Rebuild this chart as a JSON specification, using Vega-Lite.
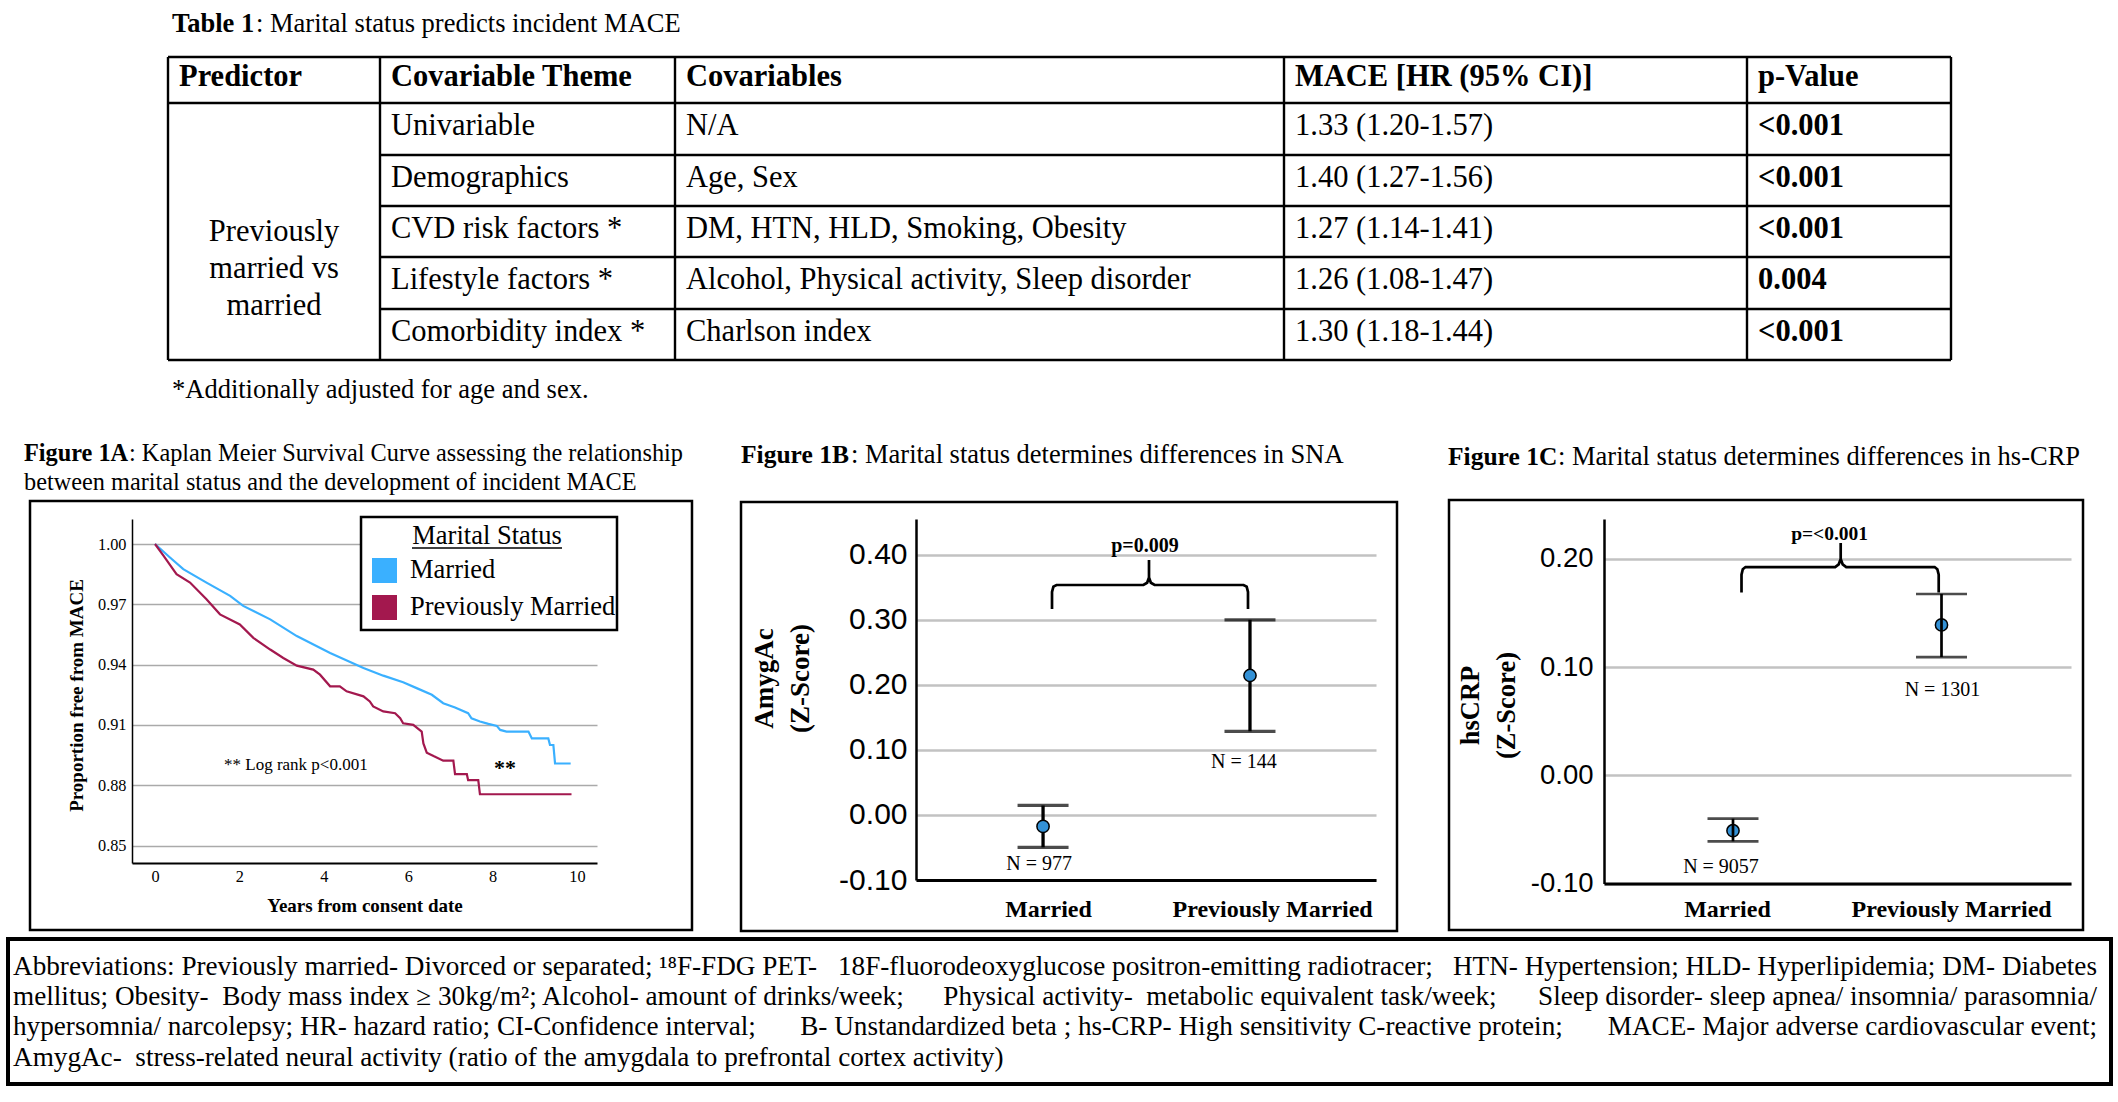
{
"$schema": "https://vega.github.io/schema/vega-lite/v6.json",
"background": "white",
"padding": {"left": 6, "top": 0, "right": 0, "bottom": 0},
"bounds": "flush",
"spacing": 0,
"config": {
  "view": {"stroke": null},
  "font": "Liberation Serif",
  "axis": {"labelColor": "black", "titleColor": "black", "domainColor": "black", "ticks": false, "tickSize": 0, "labelFont": "Liberation Serif", "titleFont": "Liberation Serif"},
  "text": {"color": "black", "font": "Liberation Serif"}
},
"datasets": {
  "table_cells": [
    {"row":0,"col":0,"kind":"header","text":"Predictor"},
    {"row":0,"col":1,"kind":"header","text":"Covariable Theme"},
    {"row":0,"col":2,"kind":"header","text":"Covariables"},
    {"row":0,"col":3,"kind":"header","text":"MACE [HR (95% CI)]"},
    {"row":0,"col":4,"kind":"header","text":"p-Value"},
    {"row":1,"col":1,"kind":"body","text":"Univariable"},
    {"row":2,"col":1,"kind":"body","text":"Demographics"},
    {"row":3,"col":1,"kind":"body","text":"CVD risk factors *"},
    {"row":4,"col":1,"kind":"body","text":"Lifestyle factors *"},
    {"row":5,"col":1,"kind":"body","text":"Comorbidity index *"},
    {"row":1,"col":2,"kind":"body","text":"N/A"},
    {"row":2,"col":2,"kind":"body","text":"Age, Sex"},
    {"row":3,"col":2,"kind":"body","text":"DM, HTN, HLD, Smoking, Obesity"},
    {"row":4,"col":2,"kind":"body","text":"Alcohol, Physical activity, Sleep disorder"},
    {"row":5,"col":2,"kind":"body","text":"Charlson index"},
    {"row":1,"col":3,"kind":"body","text":"1.33 (1.20-1.57)"},
    {"row":2,"col":3,"kind":"body","text":"1.40 (1.27-1.56)"},
    {"row":3,"col":3,"kind":"body","text":"1.27 (1.14-1.41)"},
    {"row":4,"col":3,"kind":"body","text":"1.26 (1.08-1.47)"},
    {"row":5,"col":3,"kind":"body","text":"1.30 (1.18-1.44)"},
    {"row":1,"col":4,"kind":"pvalue","text":"<0.001"},
    {"row":2,"col":4,"kind":"pvalue","text":"<0.001"},
    {"row":3,"col":4,"kind":"pvalue","text":"<0.001"},
    {"row":4,"col":4,"kind":"pvalue","text":"0.004"},
    {"row":5,"col":4,"kind":"pvalue","text":"<0.001"}
  ],
  "table_lines": [
    {"c1":0,"c2":5,"r1":-0.5,"r2":-0.5},
    {"c1":0,"c2":5,"r1":0.5,"r2":0.5},
    {"c1":1,"c2":5,"r1":1.5,"r2":1.5},
    {"c1":1,"c2":5,"r1":2.5,"r2":2.5},
    {"c1":1,"c2":5,"r1":3.5,"r2":3.5},
    {"c1":1,"c2":5,"r1":4.5,"r2":4.5},
    {"c1":0,"c2":5,"r1":5.5,"r2":5.5},
    {"c1":0,"c2":0,"r1":-0.5,"r2":5.5},
    {"c1":1,"c2":1,"r1":-0.5,"r2":5.5},
    {"c1":2,"c2":2,"r1":-0.5,"r2":5.5},
    {"c1":3,"c2":3,"r1":-0.5,"r2":5.5},
    {"c1":4,"c2":4,"r1":-0.5,"r2":5.5},
    {"c1":5,"c2":5,"r1":-0.5,"r2":5.5}
  ],
  "km": [
    {"status":"Married","years":0,"surv":1.0},
    {"status":"Married","years":0.355,"surv":0.9933},
    {"status":"Married","years":0.67,"surv":0.9875},
    {"status":"Married","years":1.22,"surv":0.9808},
    {"status":"Married","years":1.78,"surv":0.9742},
    {"status":"Married","years":2.09,"surv":0.9692},
    {"status":"Married","years":2.73,"surv":0.9625},
    {"status":"Married","years":3.36,"surv":0.9542},
    {"status":"Married","years":4.15,"surv":0.9458},
    {"status":"Married","years":4.94,"surv":0.9383},
    {"status":"Married","years":5.41,"surv":0.9345},
    {"status":"Married","years":5.88,"surv":0.9312},
    {"status":"Married","years":6.2,"surv":0.9283},
    {"status":"Married","years":6.56,"surv":0.925},
    {"status":"Married","years":6.83,"surv":0.9208},
    {"status":"Married","years":7.11,"surv":0.9187},
    {"status":"Married","years":7.42,"surv":0.9158},
    {"status":"Married","years":7.5,"surv":0.9133},
    {"status":"Married","years":7.7,"surv":0.9117},
    {"status":"Married","years":7.9,"surv":0.9105},
    {"status":"Married","years":8.1,"surv":0.9095},
    {"status":"Married","years":8.18,"surv":0.9075},
    {"status":"Married","years":8.33,"surv":0.9067},
    {"status":"Married","years":8.85,"surv":0.9067},
    {"status":"Married","years":8.93,"surv":0.9033},
    {"status":"Married","years":9.32,"surv":0.9033},
    {"status":"Married","years":9.36,"surv":0.9},
    {"status":"Married","years":9.44,"surv":0.9},
    {"status":"Married","years":9.48,"surv":0.8908},
    {"status":"Married","years":9.85,"surv":0.8908},
    {"status":"Previously Married","years":0,"surv":1.0},
    {"status":"Previously Married","years":0.2,"surv":0.9942},
    {"status":"Previously Married","years":0.51,"surv":0.985},
    {"status":"Previously Married","years":0.83,"surv":0.9808},
    {"status":"Previously Married","years":1.22,"surv":0.9725},
    {"status":"Previously Married","years":1.54,"surv":0.965},
    {"status":"Previously Married","years":2.01,"surv":0.96},
    {"status":"Previously Married","years":2.33,"surv":0.9533},
    {"status":"Previously Married","years":2.73,"surv":0.9475},
    {"status":"Previously Married","years":3.04,"surv":0.9433},
    {"status":"Previously Married","years":3.36,"surv":0.9395},
    {"status":"Previously Married","years":3.75,"surv":0.9375},
    {"status":"Previously Married","years":3.91,"surv":0.935},
    {"status":"Previously Married","years":4.15,"surv":0.9292},
    {"status":"Previously Married","years":4.38,"surv":0.9292},
    {"status":"Previously Married","years":4.54,"surv":0.9267},
    {"status":"Previously Married","years":4.94,"surv":0.9242},
    {"status":"Previously Married","years":5.09,"surv":0.9217},
    {"status":"Previously Married","years":5.17,"surv":0.9192},
    {"status":"Previously Married","years":5.41,"surv":0.9167},
    {"status":"Previously Married","years":5.69,"surv":0.9158},
    {"status":"Previously Married","years":5.81,"surv":0.9133},
    {"status":"Previously Married","years":5.88,"surv":0.9108},
    {"status":"Previously Married","years":6.12,"surv":0.91},
    {"status":"Previously Married","years":6.32,"surv":0.9067},
    {"status":"Previously Married","years":6.36,"surv":0.9008},
    {"status":"Previously Married","years":6.44,"surv":0.8962},
    {"status":"Previously Married","years":6.6,"surv":0.8945},
    {"status":"Previously Married","years":6.83,"surv":0.8922},
    {"status":"Previously Married","years":7.07,"surv":0.8922},
    {"status":"Previously Married","years":7.11,"surv":0.8855},
    {"status":"Previously Married","years":7.39,"surv":0.8855},
    {"status":"Previously Married","years":7.42,"surv":0.8825},
    {"status":"Previously Married","years":7.66,"surv":0.8825},
    {"status":"Previously Married","years":7.7,"surv":0.8755},
    {"status":"Previously Married","years":9.87,"surv":0.8755}
  ],
  "sna": [
    {"status":"Married","code":0,"mean":-0.0176,"lo":-0.0498,"hi":0.0146,"nlabel":"N = 977"},
    {"status":"Previously Married","code":1,"mean":0.2144,"lo":0.1286,"hi":0.3,"nlabel":"N = 144"}
  ],
  "crp": [
    {"status":"Married","code":0,"mean":-0.0512,"lo":-0.061,"hi":-0.0401,"nlabel":"N = 9057"},
    {"status":"Previously Married","code":1,"mean":0.139,"lo":0.1093,"hi":0.1676,"nlabel":"N = 1301"}
  ],
  "brace_b": [
    {"i":0,"bx":0.0433,"by":0.3166},{"i":1,"bx":0.0433,"by":0.343},{"i":2,"bx":0.05,"by":0.351},{"i":3,"bx":0.065,"by":0.3535},
    {"i":4,"bx":0.485,"by":0.3535},{"i":5,"bx":0.503,"by":0.357},{"i":6,"bx":0.512,"by":0.365},{"i":7,"bx":0.512,"by":0.392},
    {"i":8,"bx":0.512,"by":0.365},{"i":9,"bx":0.521,"by":0.357},{"i":10,"bx":0.539,"by":0.3535},{"i":11,"bx":0.969,"by":0.3535},
    {"i":12,"bx":0.984,"by":0.351},{"i":13,"bx":0.9904,"by":0.343},{"i":14,"bx":0.9904,"by":0.3166}
  ],
  "brace_c": [
    {"i":0,"bx":0.0408,"by":0.169},{"i":1,"bx":0.0408,"by":0.1855},{"i":2,"bx":0.047,"by":0.1905},{"i":3,"bx":0.06,"by":0.1925},
    {"i":4,"bx":0.49,"by":0.1925},{"i":5,"bx":0.507,"by":0.195},{"i":6,"bx":0.5165,"by":0.2},{"i":7,"bx":0.5165,"by":0.2147},
    {"i":8,"bx":0.5165,"by":0.2},{"i":9,"bx":0.526,"by":0.195},{"i":10,"bx":0.543,"by":0.1925},{"i":11,"bx":0.967,"by":0.1925},
    {"i":12,"bx":0.98,"by":0.1905},{"i":13,"bx":0.9866,"by":0.1855},{"i":14,"bx":0.9866,"by":0.169}
  ],
  "abbr": [
    {"line":1,"part":"left","text":"Abbreviations: Previously married- Divorced or separated; ¹⁸F-FDG PET-"},
    {"line":1,"part":"mid","text":"18F-fluorodeoxyglucose positron-emitting radiotracer;"},
    {"line":1,"part":"right","text":"HTN- Hypertension; HLD- Hyperlipidemia; DM- Diabetes"},
    {"line":2,"part":"left","text":"mellitus; Obesity-\u00a0 Body mass index ≥ 30kg/m²; Alcohol- amount of drinks/week;"},
    {"line":2,"part":"mid","text":"Physical activity-\u00a0 metabolic equivalent task/week;"},
    {"line":2,"part":"right","text":"Sleep disorder- sleep apnea/ insomnia/ parasomnia/"},
    {"line":3,"part":"left","text":"hypersomnia/ narcolepsy; HR- hazard ratio; CI-Confidence interval;"},
    {"line":3,"part":"mid","text":"B- Unstandardized beta ; hs-CRP- High sensitivity C-reactive protein;"},
    {"line":3,"part":"right","text":"MACE- Major adverse cardiovascular event;"},
    {"line":4,"part":"left","text":"AmygAc-\u00a0 stress-related neural activity (ratio of the amygdala to prefrontal cortex activity)"}
  ]
},
"vconcat": [
  {
    "width": 2100, "height": 518.5,
    "layer": [
      {"data": {"name": "table_lines"}, "mark": {"type": "rule", "strokeWidth": 2.4, "color": "black"},
       "encoding": {
         "x": {"field": "c1", "type": "quantitative", "scale": {"domain": [0,1,2,3,4,5], "range": [160,372,667,1276,1739,1943], "nice": false, "zero": false}, "axis": null},
         "x2": {"field": "c2"},
         "y": {"field": "r1", "type": "quantitative", "scale": {"domain": [-2,-0.5,0.5,1.5,2.5,3.5,4.5,5.5,7], "range": [32,57,103,155,206,257,309,360,398], "nice": false, "zero": false}, "axis": null},
         "y2": {"field": "r2"}}},
      {"data": {"name": "table_cells"}, "transform": [{"filter": "datum.kind != 'body'"}],
       "mark": {"type": "text", "align": "left", "baseline": "alphabetic", "dx": 11, "dy": 6, "fontSize": 30.5, "fontWeight": "bold"},
       "encoding": {
         "x": {"field": "col", "type": "quantitative", "scale": {"domain": [0,1,2,3,4,5], "range": [160,372,667,1276,1739,1943], "nice": false, "zero": false}, "axis": null},
         "y": {"field": "row", "type": "quantitative", "scale": {"domain": [-2,-0.5,0.5,1.5,2.5,3.5,4.5,5.5,7], "range": [32,57,103,155,206,257,309,360,398], "nice": false, "zero": false}, "axis": null},
         "text": {"field": "text"}}},
      {"data": {"name": "table_cells"}, "transform": [{"filter": "datum.kind == 'body'"}],
       "mark": {"type": "text", "align": "left", "baseline": "alphabetic", "dx": 11, "dy": 6, "fontSize": 30.5},
       "encoding": {
         "x": {"field": "col", "type": "quantitative", "scale": {"domain": [0,1,2,3,4,5], "range": [160,372,667,1276,1739,1943], "nice": false, "zero": false}, "axis": null},
         "y": {"field": "row", "type": "quantitative", "scale": {"domain": [-2,-0.5,0.5,1.5,2.5,3.5,4.5,5.5,7], "range": [32,57,103,155,206,257,309,360,398], "nice": false, "zero": false}, "axis": null},
         "text": {"field": "text"}}},
      {"data": {"values": [{}]},
       "mark": {"type": "text", "text": ["Previously", "married vs", "married"], "align": "center", "baseline": "middle", "dx": 106, "fontSize": 30.5, "lineHeight": 37},
       "encoding": {
         "x": {"datum": 0, "type": "quantitative", "scale": {"domain": [0,1,2,3,4,5], "range": [160,372,667,1276,1739,1943], "nice": false, "zero": false}, "axis": null},
         "y": {"datum": 3, "type": "quantitative", "scale": {"domain": [-2,-0.5,0.5,1.5,2.5,3.5,4.5,5.5,7], "range": [32,57,103,155,206,257,309,360,398], "nice": false, "zero": false}, "axis": null}}},
      {"data": {"values": [{}]},
       "mark": {"type": "text", "text": "Table 1", "align": "left", "baseline": "alphabetic", "dx": 4, "fontSize": 26.5, "fontWeight": "bold"},
       "encoding": {
         "x": {"datum": 0, "type": "quantitative", "scale": {"domain": [0,1,2,3,4,5], "range": [160,372,667,1276,1739,1943], "nice": false, "zero": false}, "axis": null},
         "y": {"datum": -2, "type": "quantitative", "scale": {"domain": [-2,-0.5,0.5,1.5,2.5,3.5,4.5,5.5,7], "range": [32,57,103,155,206,257,309,360,398], "nice": false, "zero": false}, "axis": null}}},
      {"data": {"values": [{}]},
       "mark": {"type": "text", "text": ": Marital status predicts incident MACE", "align": "left", "baseline": "alphabetic", "dx": 88, "fontSize": 26.5},
       "encoding": {
         "x": {"datum": 0, "type": "quantitative", "scale": {"domain": [0,1,2,3,4,5], "range": [160,372,667,1276,1739,1943], "nice": false, "zero": false}, "axis": null},
         "y": {"datum": -2, "type": "quantitative", "scale": {"domain": [-2,-0.5,0.5,1.5,2.5,3.5,4.5,5.5,7], "range": [32,57,103,155,206,257,309,360,398], "nice": false, "zero": false}, "axis": null}}},
      {"data": {"values": [{}]},
       "mark": {"type": "text", "text": "*Additionally adjusted for age and sex.", "align": "left", "baseline": "alphabetic", "dx": 4, "fontSize": 26.5},
       "encoding": {
         "x": {"datum": 0, "type": "quantitative", "scale": {"domain": [0,1,2,3,4,5], "range": [160,372,667,1276,1739,1943], "nice": false, "zero": false}, "axis": null},
         "y": {"datum": 7, "type": "quantitative", "scale": {"domain": [-2,-0.5,0.5,1.5,2.5,3.5,4.5,5.5,7], "range": [32,57,103,155,206,257,309,360,398], "nice": false, "zero": false}, "axis": null}}}
    ]
  },
  {
    "hconcat": [
      {"width": 124, "height": 1, "data": {"values": []}, "mark": "point"},
      {
        "width": 465, "height": 344,
        "layer": [
          {"data": {"name": "km"}, "mark": {"type": "line", "strokeWidth": 2.2},
           "encoding": {
             "x": {"field": "years", "type": "quantitative", "scale": {"domain": [-0.545, 10.474], "nice": false, "zero": false},
                   "axis": {"values": [0,2,4,6,8,10], "title": "Years from consent date", "titleFontSize": 19, "titleFontWeight": "bold", "titlePadding": 12, "labelFontSize": 16.3, "labelPadding": 5, "grid": false, "domainWidth": 2, "labelFlush": false}},
             "y": {"field": "surv", "type": "quantitative", "scale": {"domain": [0.8413, 1.01244], "nice": false, "zero": false},
                   "axis": {"values": [0.85,0.88,0.91,0.94,0.97,1.0], "format": ".2f", "title": "Proportion free from MACE", "titleFontSize": 19, "titleFontWeight": "bold", "titlePadding": 11, "titleY": 176, "labelFontSize": 16.3, "labelPadding": 6, "grid": true, "gridColor": "#aaaaaa", "gridWidth": 1.3, "domainWidth": 1.5}},
             "color": {"field": "status", "type": "nominal", "scale": {"domain": ["Married", "Previously Married"], "range": ["#3ab0ff", "#a3184e"]}, "legend": null}}},
          {"data": {"values": [{}]}, "mark": {"type": "rect", "fill": "white", "stroke": "black", "strokeWidth": 2.5},
           "encoding": {"x": {"datum": 4.882, "type": "quantitative", "scale": {"domain": [-0.545, 10.474], "nice": false, "zero": false}},
                        "x2": {"datum": 10.948},
                        "y": {"datum": 1.01343, "type": "quantitative", "scale": {"domain": [0.8413, 1.01244], "nice": false, "zero": false}},
                        "y2": {"datum": 0.95721}}},
          {"data": {"values": [{}]}, "mark": {"type": "text", "text": "Marital Status", "fontSize": 26.5, "align": "center", "baseline": "alphabetic"},
           "encoding": {"x": {"datum": 7.867, "type": "quantitative", "scale": {"domain": [-0.545, 10.474], "nice": false, "zero": false}},
                        "y": {"datum": 1.0, "type": "quantitative", "scale": {"domain": [0.8413, 1.01244], "nice": false, "zero": false}}}},
          {"data": {"values": [{}]}, "mark": {"type": "rule", "color": "black", "strokeWidth": 1.6},
           "encoding": {"x": {"datum": 6.09, "type": "quantitative", "scale": {"domain": [-0.545, 10.474], "nice": false, "zero": false}},
                        "x2": {"datum": 9.645},
                        "y": {"datum": 0.99801, "type": "quantitative", "scale": {"domain": [0.8413, 1.01244], "nice": false, "zero": false}}}},
          {"data": {"values": [{}]}, "mark": {"type": "rect"},
           "encoding": {"x": {"datum": 5.142, "type": "quantitative", "scale": {"domain": [-0.545, 10.474], "nice": false, "zero": false}},
                        "x2": {"datum": 5.735},
                        "y": {"datum": 0.99303, "type": "quantitative", "scale": {"domain": [0.8413, 1.01244], "nice": false, "zero": false}},
                        "y2": {"datum": 0.9806},
                        "color": {"datum": "Married", "type": "nominal", "scale": {"domain": ["Married", "Previously Married"], "range": ["#3ab0ff", "#a3184e"]}, "legend": null}}},
          {"data": {"values": [{}]}, "mark": {"type": "rect"},
           "encoding": {"x": {"datum": 5.142, "type": "quantitative", "scale": {"domain": [-0.545, 10.474], "nice": false, "zero": false}},
                        "x2": {"datum": 5.735},
                        "y": {"datum": 0.97463, "type": "quantitative", "scale": {"domain": [0.8413, 1.01244], "nice": false, "zero": false}},
                        "y2": {"datum": 0.96219},
                        "color": {"datum": "Previously Married", "type": "nominal", "scale": {"domain": ["Married", "Previously Married"], "range": ["#3ab0ff", "#a3184e"]}, "legend": null}}},
          {"data": {"values": [{}]}, "mark": {"type": "text", "text": "Married", "fontSize": 26.5, "align": "left", "baseline": "alphabetic"},
           "encoding": {"x": {"datum": 6.043, "type": "quantitative", "scale": {"domain": [-0.545, 10.474], "nice": false, "zero": false}},
                        "y": {"datum": 0.98308, "type": "quantitative", "scale": {"domain": [0.8413, 1.01244], "nice": false, "zero": false}}}},
          {"data": {"values": [{}]}, "mark": {"type": "text", "text": "Previously Married", "fontSize": 26.5, "align": "left", "baseline": "alphabetic"},
           "encoding": {"x": {"datum": 6.043, "type": "quantitative", "scale": {"domain": [-0.545, 10.474], "nice": false, "zero": false}},
                        "y": {"datum": 0.96468, "type": "quantitative", "scale": {"domain": [0.8413, 1.01244], "nice": false, "zero": false}}}},
          {"data": {"values": [{}]}, "mark": {"type": "text", "text": "** Log rank p<0.001", "fontSize": 17, "align": "left", "baseline": "alphabetic"},
           "encoding": {"x": {"datum": 1.635, "type": "quantitative", "scale": {"domain": [-0.545, 10.474], "nice": false, "zero": false}},
                        "y": {"datum": 0.8876, "type": "quantitative", "scale": {"domain": [0.8413, 1.01244], "nice": false, "zero": false}}}},
          {"data": {"values": [{}]}, "mark": {"type": "text", "text": "**", "fontSize": 22, "fontWeight": "bold", "align": "center", "baseline": "alphabetic"},
           "encoding": {"x": {"datum": 8.294, "type": "quantitative", "scale": {"domain": [-0.545, 10.474], "nice": false, "zero": false}},
                        "y": {"datum": 0.8851, "type": "quantitative", "scale": {"domain": [0.8413, 1.01244], "nice": false, "zero": false}}}},
          {"data": {"values": [{}]}, "mark": {"type": "text", "text": "Figure 1A", "fontSize": 24.3, "fontWeight": "bold", "align": "left", "baseline": "alphabetic"},
           "encoding": {"x": {"datum": -3.104, "type": "quantitative", "scale": {"domain": [-0.545, 10.474], "nice": false, "zero": false}},
                        "y": {"datum": 1.0413, "type": "quantitative", "scale": {"domain": [0.8413, 1.01244], "nice": false, "zero": false}}}},
          {"data": {"values": [{}]}, "mark": {"type": "text", "text": ": Kaplan Meier Survival Curve assessing the relationship", "fontSize": 24.3, "align": "left", "baseline": "alphabetic", "dx": 105},
           "encoding": {"x": {"datum": -3.104, "type": "quantitative", "scale": {"domain": [-0.545, 10.474], "nice": false, "zero": false}},
                        "y": {"datum": 1.0413, "type": "quantitative", "scale": {"domain": [0.8413, 1.01244], "nice": false, "zero": false}}}},
          {"data": {"values": [{}]}, "mark": {"type": "text", "text": "between marital status and the development of incident MACE", "fontSize": 24.3, "align": "left", "baseline": "alphabetic"},
           "encoding": {"x": {"datum": -3.104, "type": "quantitative", "scale": {"domain": [-0.545, 10.474], "nice": false, "zero": false}},
                        "y": {"datum": 1.0269, "type": "quantitative", "scale": {"domain": [0.8413, 1.01244], "nice": false, "zero": false}}}},
          {"data": {"values": [{}]}, "mark": {"type": "rect", "filled": false, "stroke": "black", "strokeWidth": 2.5},
           "encoding": {"x": {"datum": -2.962, "type": "quantitative", "scale": {"domain": [-0.545, 10.474], "nice": false, "zero": false}},
                        "x2": {"datum": 12.725},
                        "y": {"datum": 1.0214, "type": "quantitative", "scale": {"domain": [0.8413, 1.01244], "nice": false, "zero": false}},
                        "y2": {"datum": 0.80796}}}
        ]
      },
      {"width": 319, "height": 1, "data": {"values": []}, "mark": "point"},
      {
        "width": 460, "height": 361,
        "layer": [
          {"data": {"name": "sna"}, "mark": {"type": "rule", "strokeWidth": 3.3, "color": "black"},
           "encoding": {
             "x": {"field": "code", "type": "quantitative", "scale": {"domain": [-0.614, 1.609], "nice": false, "zero": false},
                   "axis": {"values": [0.024, 1.107], "labelExpr": "datum.value < 0.5 ? 'Married' : 'Previously Married'", "title": null, "labelFontSize": 24, "labelFontWeight": "bold", "labelPadding": 17, "labelLimit": 400, "grid": false, "domainWidth": 3, "labelFlush": false, "labelOverlap": false, "labelBound": false}},
             "y": {"field": "lo", "type": "quantitative", "scale": {"domain": [-0.1, 0.455], "nice": false, "zero": false},
                   "axis": {"values": [-0.1,0,0.1,0.2,0.3,0.4], "format": ".2f", "labelExpr": "replace(datum.label, '\u2212', '-')", "title": ["AmygAc", "(Z-Score)"], "titleFontSize": 27, "titleFontWeight": "bold", "titleLineHeight": 36, "titlePadding": 24.6, "titleY": 159, "labelFont": "Liberation Sans", "labelFontSize": 30, "labelPadding": 9, "grid": true, "gridColor": "#c2c2c2", "gridWidth": 2.3, "domainWidth": 2.5}},
             "y2": {"field": "hi"}}},
          {"data": {"name": "sna"}, "mark": {"type": "tick", "orient": "horizontal", "size": 51, "thickness": 3.3, "color": "black"},
           "encoding": {"x": {"field": "code", "type": "quantitative", "scale": {"domain": [-0.614, 1.609], "nice": false, "zero": false}},
                        "y": {"field": "lo", "type": "quantitative", "scale": {"domain": [-0.1, 0.455], "nice": false, "zero": false}}}},
          {"data": {"name": "sna"}, "mark": {"type": "tick", "orient": "horizontal", "size": 51, "thickness": 3.3, "color": "black"},
           "encoding": {"x": {"field": "code", "type": "quantitative", "scale": {"domain": [-0.614, 1.609], "nice": false, "zero": false}},
                        "y": {"field": "hi", "type": "quantitative", "scale": {"domain": [-0.1, 0.455], "nice": false, "zero": false}}}},
          {"data": {"name": "sna"}, "mark": {"type": "point", "filled": true, "fill": "#3391d6", "stroke": "black", "strokeWidth": 1.5, "size": 150, "opacity": 1},
           "encoding": {"x": {"field": "code", "type": "quantitative", "scale": {"domain": [-0.614, 1.609], "nice": false, "zero": false}},
                        "y": {"field": "mean", "type": "quantitative", "scale": {"domain": [-0.1, 0.455], "nice": false, "zero": false}}}},
          {"data": {"name": "sna"}, "transform": [{"filter": "datum.code == 0"}], "mark": {"type": "text", "fontSize": 20, "align": "center", "baseline": "alphabetic", "dy": 23, "dx": -4},
           "encoding": {"x": {"field": "code", "type": "quantitative", "scale": {"domain": [-0.614, 1.609], "nice": false, "zero": false}},
                        "y": {"field": "lo", "type": "quantitative", "scale": {"domain": [-0.1, 0.455], "nice": false, "zero": false}},
                        "text": {"field": "nlabel"}}},
          {"data": {"name": "sna"}, "transform": [{"filter": "datum.code == 1"}], "mark": {"type": "text", "fontSize": 20, "align": "center", "baseline": "alphabetic", "dy": 37, "dx": -6},
           "encoding": {"x": {"field": "code", "type": "quantitative", "scale": {"domain": [-0.614, 1.609], "nice": false, "zero": false}},
                        "y": {"field": "lo", "type": "quantitative", "scale": {"domain": [-0.1, 0.455], "nice": false, "zero": false}},
                        "text": {"field": "nlabel"}}},
          {"data": {"name": "brace_b"}, "mark": {"type": "line", "color": "black", "strokeWidth": 2.7},
           "encoding": {"x": {"field": "bx", "type": "quantitative", "scale": {"domain": [-0.614, 1.609], "nice": false, "zero": false}},
                        "y": {"field": "by", "type": "quantitative", "scale": {"domain": [-0.1, 0.455], "nice": false, "zero": false}},
                        "order": {"field": "i", "type": "quantitative"}}},
          {"data": {"values": [{}]}, "mark": {"type": "text", "text": "p=0.009", "fontSize": 20, "fontWeight": "bold", "align": "center", "baseline": "alphabetic"},
           "encoding": {"x": {"datum": 0.4927, "type": "quantitative", "scale": {"domain": [-0.614, 1.609], "nice": false, "zero": false}},
                        "y": {"datum": 0.4043, "type": "quantitative", "scale": {"domain": [-0.1, 0.455], "nice": false, "zero": false}}}},
          {"data": {"values": [{}]}, "mark": {"type": "text", "text": "Figure 1B", "fontSize": 25.5, "fontWeight": "bold", "align": "left", "baseline": "alphabetic"},
           "encoding": {"x": {"datum": -1.4597, "type": "quantitative", "scale": {"domain": [-0.614, 1.609], "nice": false, "zero": false}},
                        "y": {"datum": 0.5411, "type": "quantitative", "scale": {"domain": [-0.1, 0.455], "nice": false, "zero": false}}}},
          {"data": {"values": [{}]}, "mark": {"type": "text", "text": ": Marital status determines differences in SNA", "fontSize": 26.5, "align": "left", "baseline": "alphabetic", "dx": 110},
           "encoding": {"x": {"datum": -1.4597, "type": "quantitative", "scale": {"domain": [-0.614, 1.609], "nice": false, "zero": false}},
                        "y": {"datum": 0.5411, "type": "quantitative", "scale": {"domain": [-0.1, 0.455], "nice": false, "zero": false}}}},
          {"data": {"values": [{}]}, "mark": {"type": "rect", "filled": false, "stroke": "black", "strokeWidth": 2.5},
           "encoding": {"x": {"datum": -1.4597, "type": "quantitative", "scale": {"domain": [-0.614, 1.609], "nice": false, "zero": false}},
                        "x2": {"datum": 1.7105},
                        "y": {"datum": 0.4811, "type": "quantitative", "scale": {"domain": [-0.1, 0.455], "nice": false, "zero": false}},
                        "y2": {"datum": -0.1784}}}
        ]
      },
      {"width": 228, "height": 1, "data": {"values": []}, "mark": "point"},
      {
        "width": 467, "height": 364.5,
        "layer": [
          {"data": {"name": "crp"}, "mark": {"type": "tick", "orient": "horizontal", "size": 51, "thickness": 2.7, "color": "black"},
           "encoding": {
             "x": {"field": "code", "type": "quantitative", "scale": {"domain": [-0.6187, 1.6211], "nice": false, "zero": false},
                   "axis": {"values": [-0.029, 1.046], "labelExpr": "datum.value < 0.5 ? 'Married' : 'Previously Married'", "title": null, "labelFontSize": 24, "labelFontWeight": "bold", "labelPadding": 13.5, "labelLimit": 400, "grid": false, "domainWidth": 3, "labelFlush": false, "labelOverlap": false, "labelBound": false}},
             "y": {"field": "lo", "type": "quantitative", "scale": {"domain": [-0.1, 0.2369], "nice": false, "zero": false},
                   "axis": {"values": [-0.1,0,0.1,0.2], "format": ".2f", "labelExpr": "replace(datum.label, '\u2212', '-')", "title": ["hsCRP", "(Z-Score)"], "titleFontSize": 26.5, "titleFontWeight": "bold", "titleLineHeight": 36, "titlePadding": 10, "titleY": 186, "labelFont": "Liberation Sans", "labelFontSize": 27.5, "labelPadding": 11, "grid": true, "gridColor": "#c2c2c2", "gridWidth": 2.3, "domainWidth": 2.5}}}},
          {"data": {"name": "crp"}, "mark": {"type": "tick", "orient": "horizontal", "size": 51, "thickness": 2.7, "color": "black"},
           "encoding": {"x": {"field": "code", "type": "quantitative", "scale": {"domain": [-0.6187, 1.6211], "nice": false, "zero": false}},
                        "y": {"field": "hi", "type": "quantitative", "scale": {"domain": [-0.1, 0.2369], "nice": false, "zero": false}}}},
          {"data": {"name": "crp"}, "mark": {"type": "point", "filled": true, "fill": "#3391d6", "stroke": "black", "strokeWidth": 1.5, "size": 150, "opacity": 1},
           "encoding": {"x": {"field": "code", "type": "quantitative", "scale": {"domain": [-0.6187, 1.6211], "nice": false, "zero": false}},
                        "y": {"field": "mean", "type": "quantitative", "scale": {"domain": [-0.1, 0.2369], "nice": false, "zero": false}}}},
          {"data": {"name": "crp"}, "mark": {"type": "rule", "strokeWidth": 2.7, "color": "black"},
           "encoding": {"x": {"field": "code", "type": "quantitative", "scale": {"domain": [-0.6187, 1.6211], "nice": false, "zero": false}},
                        "y": {"field": "lo", "type": "quantitative", "scale": {"domain": [-0.1, 0.2369], "nice": false, "zero": false}},
                        "y2": {"field": "hi"}}},
          {"data": {"name": "crp"}, "transform": [{"filter": "datum.code == 0"}], "mark": {"type": "text", "fontSize": 20, "align": "center", "baseline": "alphabetic", "dy": 32, "dx": -12},
           "encoding": {"x": {"field": "code", "type": "quantitative", "scale": {"domain": [-0.6187, 1.6211], "nice": false, "zero": false}},
                        "y": {"field": "lo", "type": "quantitative", "scale": {"domain": [-0.1, 0.2369], "nice": false, "zero": false}},
                        "text": {"field": "nlabel"}}},
          {"data": {"name": "crp"}, "transform": [{"filter": "datum.code == 1"}], "mark": {"type": "text", "fontSize": 20, "align": "center", "baseline": "alphabetic", "dy": 39, "dx": 1},
           "encoding": {"x": {"field": "code", "type": "quantitative", "scale": {"domain": [-0.6187, 1.6211], "nice": false, "zero": false}},
                        "y": {"field": "lo", "type": "quantitative", "scale": {"domain": [-0.1, 0.2369], "nice": false, "zero": false}},
                        "text": {"field": "nlabel"}}},
          {"data": {"name": "brace_c"}, "mark": {"type": "line", "color": "black", "strokeWidth": 2.7},
           "encoding": {"x": {"field": "bx", "type": "quantitative", "scale": {"domain": [-0.6187, 1.6211], "nice": false, "zero": false}},
                        "y": {"field": "by", "type": "quantitative", "scale": {"domain": [-0.1, 0.2369], "nice": false, "zero": false}},
                        "order": {"field": "i", "type": "quantitative"}}},
          {"data": {"values": [{}]}, "mark": {"type": "text", "text": "p=<0.001", "fontSize": 19.5, "fontWeight": "bold", "align": "center", "baseline": "alphabetic"},
           "encoding": {"x": {"datum": 0.4633, "type": "quantitative", "scale": {"domain": [-0.6187, 1.6211], "nice": false, "zero": false}},
                        "y": {"datum": 0.2178, "type": "quantitative", "scale": {"domain": [-0.1, 0.2369], "nice": false, "zero": false}}}},
          {"data": {"values": [{}]}, "mark": {"type": "text", "text": "Figure 1C", "fontSize": 25.5, "fontWeight": "bold", "align": "left", "baseline": "alphabetic"},
           "encoding": {"x": {"datum": -1.3669, "type": "quantitative", "scale": {"domain": [-0.6187, 1.6211], "nice": false, "zero": false}},
                        "y": {"datum": 0.2868, "type": "quantitative", "scale": {"domain": [-0.1, 0.2369], "nice": false, "zero": false}}}},
          {"data": {"values": [{}]}, "mark": {"type": "text", "text": ": Marital status determines differences in hs-CRP", "fontSize": 26.5, "align": "left", "baseline": "alphabetic", "dx": 110},
           "encoding": {"x": {"datum": -1.3669, "type": "quantitative", "scale": {"domain": [-0.6187, 1.6211], "nice": false, "zero": false}},
                        "y": {"datum": 0.2868, "type": "quantitative", "scale": {"domain": [-0.1, 0.2369], "nice": false, "zero": false}}}},
          {"data": {"values": [{}]}, "mark": {"type": "rect", "filled": false, "stroke": "black", "strokeWidth": 2.5},
           "encoding": {"x": {"datum": -1.3621, "type": "quantitative", "scale": {"domain": [-0.6187, 1.6211], "nice": false, "zero": false}},
                        "x2": {"datum": 1.6787},
                        "y": {"datum": 0.2545, "type": "quantitative", "scale": {"domain": [-0.1, 0.2369], "nice": false, "zero": false}},
                        "y2": {"datum": -0.143}}}
        ]
      }
    ],
    "spacing": 0,
    "bounds": "flush"
  },
  {"width": 1, "height": 419.5, "data": {"values": []}, "mark": "point"},
  {
    "width": 2103, "height": 145,
    "view": {"stroke": "black", "strokeWidth": 4},
    "data": {"name": "abbr"},
    "layer": [
      {"transform": [{"filter": "datum.part == 'left'"}], "mark": {"type": "text", "align": "left", "baseline": "alphabetic", "dx": 5, "fontSize": 27.2},
       "encoding": {"x": {"datum": 0, "type": "quantitative", "scale": {"domain": [0, 1], "nice": false, "zero": false}, "axis": null},
                    "y": {"field": "line", "type": "quantitative", "scale": {"domain": [1, 4], "range": [36, 126.5], "nice": false, "zero": false}, "axis": null},
                    "text": {"field": "text"}}},
      {"transform": [{"filter": "datum.part == 'right'"}], "mark": {"type": "text", "align": "right", "baseline": "alphabetic", "dx": -14, "fontSize": 27.2},
       "encoding": {"x": {"datum": 1, "type": "quantitative", "scale": {"domain": [0, 1], "nice": false, "zero": false}, "axis": null},
                    "y": {"field": "line", "type": "quantitative", "scale": {"domain": [1, 4], "range": [36, 126.5], "nice": false, "zero": false}, "axis": null},
                    "text": {"field": "text"}}},
      {"transform": [{"filter": "datum.part == 'mid' && datum.line == 1"}], "mark": {"type": "text", "align": "center", "baseline": "alphabetic", "fontSize": 27.2},
       "encoding": {"x": {"datum": 0.5361, "type": "quantitative", "scale": {"domain": [0, 1], "nice": false, "zero": false}, "axis": null},
                    "y": {"field": "line", "type": "quantitative", "scale": {"domain": [1, 4], "range": [36, 126.5], "nice": false, "zero": false}, "axis": null},
                    "text": {"field": "text"}}},
      {"transform": [{"filter": "datum.part == 'mid' && datum.line == 2"}], "mark": {"type": "text", "align": "center", "baseline": "alphabetic", "fontSize": 27.2},
       "encoding": {"x": {"datum": 0.5763, "type": "quantitative", "scale": {"domain": [0, 1], "nice": false, "zero": false}, "axis": null},
                    "y": {"field": "line", "type": "quantitative", "scale": {"domain": [1, 4], "range": [36, 126.5], "nice": false, "zero": false}, "axis": null},
                    "text": {"field": "text"}}},
      {"transform": [{"filter": "datum.part == 'mid' && datum.line == 3"}], "mark": {"type": "text", "align": "center", "baseline": "alphabetic", "fontSize": 27.2},
       "encoding": {"x": {"datum": 0.558, "type": "quantitative", "scale": {"domain": [0, 1], "nice": false, "zero": false}, "axis": null},
                    "y": {"field": "line", "type": "quantitative", "scale": {"domain": [1, 4], "range": [36, 126.5], "nice": false, "zero": false}, "axis": null},
                    "text": {"field": "text"}}}
    ]
  }
]
}
